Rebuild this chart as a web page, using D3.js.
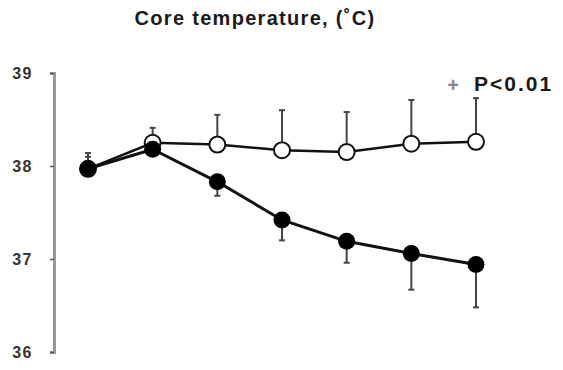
<!DOCTYPE html>
<html><head><meta charset="utf-8">
<script src="https://cdn.jsdelivr.net/npm/d3@7"></script>
<style>body{margin:0;background:#fff}svg{display:block}</style>
</head><body>
<svg id="c" width="563" height="370"></svg>
<script>
const timePoints = [0,1,2,3,4,5,6];
const yTicks = [36,37,38,39];
const openMean = [37.97,38.25,38.23,38.17,38.15,38.24,38.26];
const openErrUp = [38.10,38.41,38.55,38.60,38.58,38.71,38.73];
const filledMean = [37.97,38.18,37.83,37.42,37.19,37.06,36.94];
const filledErr = [38.14,38.18,37.68,37.20,36.96,36.67,36.48];
const titleText = "Core temperature, (\u02DAC)";
const legendText = "P<0.01";

const svg = d3.select("#c");
const x = d3.scaleLinear().domain([0,6]).range([88,476]);
const y = d3.scaleLinear().domain([36,39]).range([352,73]);

svg.append("text").attr("x",255).attr("y",25).attr("text-anchor","middle")
  .attr("font-family","Liberation Sans, Arial").attr("font-weight","bold")
  .attr("font-size",20).attr("letter-spacing","1.3").attr("fill","#1a1a1a").text(titleText);

const ax = svg.append("g").attr("transform","translate(54,0)")
  .call(d3.axisLeft(y).tickValues(yTicks).tickSize(4).tickPadding(17).tickFormat(d3.format("d")));
ax.select(".domain").attr("stroke","#999").attr("stroke-width",3);
ax.selectAll(".tick line").attr("stroke","#555").attr("stroke-width",1.5);
ax.selectAll(".tick text").attr("font-family","Liberation Sans, Arial").attr("font-weight","bold")
  .attr("font-size",16).attr("letter-spacing","1.5").attr("fill","#333");

// error bars
function errBars(mean, err, color){
  const g = svg.append("g").attr("stroke",color).attr("stroke-width",2);
  timePoints.forEach(i=>{
    g.append("line").attr("x1",x(i)).attr("x2",x(i)).attr("y1",y(mean[i])).attr("y2",y(err[i]));
    g.append("line").attr("x1",x(i)-3).attr("x2",x(i)+3).attr("y1",y(err[i])).attr("y2",y(err[i]));
  });
}
errBars(openMean, openErrUp, "#444");
errBars(filledMean, filledErr, "#444");

const line = d3.line().x((d,i)=>x(i)).y(d=>y(d));
svg.append("path").datum(openMean).attr("d",line).attr("fill","none").attr("stroke","#111").attr("stroke-width",2.5);
svg.selectAll(".o").data(openMean).join("circle").attr("cx",(d,i)=>x(i)).attr("cy",d=>y(d)).attr("r",8)
  .attr("fill","#fff").attr("stroke","#111").attr("stroke-width",2);
svg.append("path").datum(filledMean).attr("d",line).attr("fill","none").attr("stroke","#111").attr("stroke-width",3);
svg.selectAll(".f").data(filledMean).join("circle").attr("cx",(d,i)=>x(i)).attr("cy",d=>y(d)).attr("r",8.5)
  .attr("fill","#000");

svg.append("text").attr("x",453).attr("y",92).attr("text-anchor","middle").attr("font-family","Liberation Sans, Arial")
  .attr("font-weight","bold").attr("font-size",20).attr("fill","#888").text("+");
svg.append("text").attr("x",474).attr("y",91).attr("font-family","Liberation Sans, Arial").attr("font-weight","bold")
  .attr("font-size",21).attr("letter-spacing","2").attr("fill","#1a1a1a").text(legendText);
</script>
</body></html>
